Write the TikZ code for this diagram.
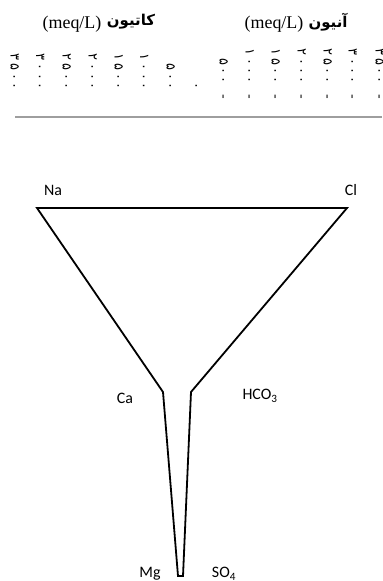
\documentclass[tikz,border=0pt]{standalone}
\usepackage{fontspec}
\setmainfont{Liberation Serif}
\newfontfamily\labfont{Carlito}
\newfontfamily\arfont[Script=Arabic]{DejaVu Sans}
\TeXXeTstate=1
\begin{document}
\begin{tikzpicture}[x=1bp,y=-1bp,
  digit/.style={inner sep=0pt,rotate=-90,text height=9bp,text depth=0pt,font=\arfont\fontsize{13}{13}\selectfont},
  lab/.style={inner sep=0pt,font=\labfont\fontsize{16}{17}\selectfont},
  head/.style={inner sep=0pt,font=\fontsize{18}{19}\selectfont},
  arhead/.style={inner sep=0pt,font=\arfont\bfseries\fontsize{15}{17}\selectfont},
  funnel/.style={draw=black,line width=1.8bp,line join=miter}]
\useasboundingbox (0,0) rectangle (382,581);
% headers
\node[head] (cm) at (72,24) {(meq/L)};
\node[arhead] (ct) at (131,22) {\beginR کاتیون\endR};
\node[head] (am) at (274,24) {(meq/L)};
\node[arhead] (at) at (328,22) {\beginR آنیون\endR};
% cation scale
\foreach \i/\x/\a/\b/\c/\d in {1/15/۳/۵/۰/۰,2/40.5/۳/۰/۰/۰,3/67/۲/۵/۰/۰,4/93/۲/۰/۰/۰,5/119/۱/۵/۰/۰,6/144.5/۱/۰/۰/۰}{
  \node[digit] (c\i a) at (\x,57.3) {\a};
  \node[digit] (c\i b) at (\x,66.7) {\b};
  \node[digit] (c\i c) at (\x,76.7) {\c};
  \node[digit] (c\i d) at (\x,85.7) {\d};
}
\node[digit] (c7b) at (171,66.7) {۵};
\node[digit] (c7c) at (171,76.7) {۰};
\node[digit] (c7d) at (171,85.7) {۰};
\node[digit] (c8d) at (197,85.7) {۰};
% anion scale
\node[digit] (a1b) at (224,61.5) {۵};
\node[digit] (a1c) at (224,70.8) {۰};
\node[digit] (a1d) at (224,80) {۰};
\node[digit] (a1m) at (224,96.5) {-};
\foreach \i/\x/\a/\b in {2/250/۱/۰,3/276/۱/۵,4/302/۲/۰,5/328/۲/۵,6/353/۳/۰,7/380/۳/۵}{
  \node[digit] (a\i a) at (\x,51.8) {\a};
  \node[digit] (a\i b) at (\x,61.5) {\b};
  \node[digit] (a\i c) at (\x,70.8) {۰};
  \node[digit] (a\i d) at (\x,80) {۰};
  \node[digit] (a\i m) at (\x,96.5) {-};
}
% separator
\coordinate (s1) at (15,117);
\coordinate (s2) at (382,117);
\draw[color=black!38,line width=1.5bp] (s1) -- (s2);
% funnel
\coordinate (tl) at (37,208);
\coordinate (tr) at (347,208);
\coordinate (br) at (191,392);
\coordinate (bbr) at (183,576);
\coordinate (bbl) at (178,576);
\coordinate (bl) at (163,392);
\draw[funnel] (tl) -- (tr) -- (br) -- (bbr) -- (bbl) -- (bl) -- cycle;
% labels
\node[lab] (na) at (53,190) {Na};
\node[lab] (cl) at (351,190) {Cl};
\node[lab] (ca) at (125,398) {Ca};
\node[lab] (hco) at (260,396) {HCO\textsubscript{3}};
\node[lab] (mg) at (150,574) {Mg};
\node[lab] (so) at (224,574) {SO\textsubscript{4}};
\end{tikzpicture}
\end{document}
